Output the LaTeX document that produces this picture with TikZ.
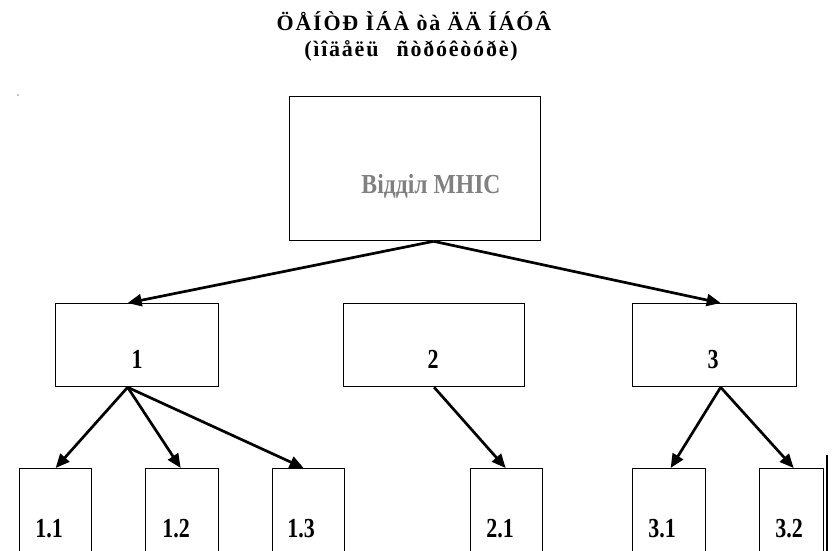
\documentclass[tikz,border=0pt]{standalone}
\usepackage{fontspec}
\setmainfont{Liberation Serif}
\usetikzlibrary{arrows.meta}
\begin{document}
\begin{tikzpicture}[x=1pt,y=-1pt,
  box/.style={draw, line width=1.3pt, inner sep=0pt, anchor=north west},
  lab/.style={font=\bfseries\fontsize{27.5}{29}\selectfont, inner sep=0pt, anchor=base},
  ttl/.style={font=\bfseries\fontsize{22}{24}\selectfont\addfontfeature{LetterSpace=8}, inner sep=0pt, anchor=base},
  arr/.style={line width=2.7pt, -{Triangle[length=14pt,width=12pt]}}]
\useasboundingbox (0,0) rectangle (834,550);
\clip (0,0) rectangle (834,550);
% title
\node[ttl] (t1) at (414,30) {ÖÅÍÒÐ ÌÁÀ òà ÄÄ ÍÁÓÂ};
\node[ttl] (t2) at (411,56) {(ìîäåëü\ \ \,ñòðóêòóðè)};
\fill (18,95) circle (0.6pt);
% boxes
\node[box, minimum width=251pt, minimum height=144pt] (top) at (289,96) {};
\node[box, minimum width=163pt, minimum height=83pt] (b1) at (55,303) {};
\node[box, minimum width=181pt, minimum height=83pt] (b2) at (343,303) {};
\node[box, minimum width=164pt, minimum height=83pt] (b3) at (632,303) {};
\node[box, minimum width=72pt, minimum height=120pt] (b11) at (19,468) {};
\node[box, minimum width=73pt, minimum height=120pt] (b12) at (145,468) {};
\node[box, minimum width=72pt, minimum height=120pt] (b13) at (272,468) {};
\node[box, minimum width=72pt, minimum height=120pt] (b21) at (470,468) {};
\node[box, minimum width=73pt, minimum height=120pt] (b31) at (632,468) {};
\node[box, minimum width=64pt, minimum height=120pt] (b32) at (759,468) {};
\coordinate (edgeTop) at (827,455);
\coordinate (edgeBot) at (827,560);
\draw[line width=2pt] (edgeTop) -- (edgeBot);
% labels
\node[lab, text=black!50] (ltop) at (431,193) {\scalebox{0.86}[1]{Відділ МНІС}};
\node[lab] (l1) at (137,368) {\scalebox{0.8}[1]{1}};
\node[lab] (l2) at (433,368) {\scalebox{0.8}[1]{2}};
\node[lab] (l3) at (713,368) {\scalebox{0.8}[1]{3}};
\node[lab] (l11) at (49,537) {\scalebox{0.8}[1]{1.1}};
\node[lab] (l12) at (176,537) {\scalebox{0.8}[1]{1.2}};
\node[lab] (l13) at (301,537) {\scalebox{0.8}[1]{1.3}};
\node[lab] (l21) at (500,537) {\scalebox{0.8}[1]{2.1}};
\node[lab] (l31) at (662,537) {\scalebox{0.8}[1]{3.1}};
\node[lab] (l32) at (789,537) {\scalebox{0.8}[1]{3.2}};
% connectors
\coordinate (s0) at ([xshift=18.5pt]top.south);
\coordinate (s1) at ([xshift=-9.5pt]b1.south);
\coordinate (s2) at (b2.south);
\coordinate (s3) at ([xshift=6pt]b3.south);
\draw[arr] (s0) -- ([xshift=-9.5pt]b1.north);
\draw[arr] (s0) -- ([xshift=6pt]b3.north);
\draw[arr] (s1) -- ([xshift=0pt]b11.north);
\draw[arr] (s1) -- ([xshift=-1.5pt]b12.north);
\draw[arr] (s1) -- ([xshift=-5pt]b13.north);
\draw[arr] (s2) -- ([xshift=-1pt]b21.north);
\draw[arr] (s3) -- ([xshift=1.5pt]b31.north);
\draw[arr] (s3) -- ([xshift=2pt]b32.north);
\end{tikzpicture}
\end{document}
